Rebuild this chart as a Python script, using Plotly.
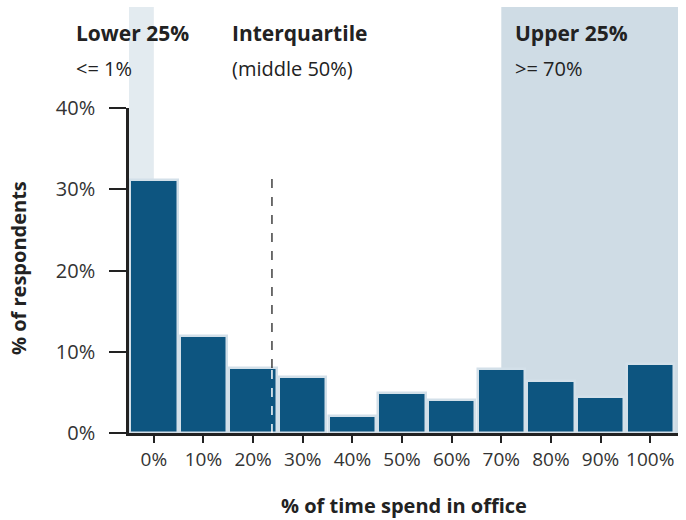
import plotly.graph_objects as go

categories = ["0%", "10%", "20%", "30%", "40%", "50%", "60%", "70%", "80%", "90%", "100%"]
respondents_pct = [31.1, 11.9, 8.0, 6.9, 2.1, 4.9, 4.1, 7.9, 6.4, 4.4, 8.5]
y_ticks = [0, 10, 20, 30, 40]
y_tick_labels = ["0%", "10%", "20%", "30%", "40%"]
lower_quartile_pct = 1      # <= 1%
upper_quartile_pct = 70     # >= 70%
median_marker_pct = 23.8    # dashed line position (time in office)
dashed_top_pct = 31.5

x_pos = list(range(len(categories)))
to_x = lambda pct: pct / 10.0

FONT = "'Open Sans', Roboto, sans-serif"
BAR = "#0d5580"
OUTLINE = "#d3e0e9"

L, R, T, B = 129, 678, 108, 433
W, H = 686, 520

fig = go.Figure()
fig.add_trace(go.Bar(
    x=x_pos, y=respondents_pct,
    marker=dict(color=BAR, line=dict(color=OUTLINE, width=2.5)),
    width=0.955, hoverinfo="skip",
))

shapes = [
    dict(type="rect", xref="x", yref="paper", x0=-0.5, x1=to_x(0),
         y0=0, y1=(B - 7) / (B - T), fillcolor="#e3ebf0", line_width=0, layer="below"),
    dict(type="rect", xref="x", yref="paper", x0=to_x(upper_quartile_pct), x1=10.56,
         y0=0, y1=(B - 7) / (B - T), fillcolor="#cfdce5", line_width=0, layer="below"),
    dict(type="line", xref="x", yref="y", x0=to_x(median_marker_pct), x1=to_x(median_marker_pct),
         y0=0, y1=respondents_pct[2], line=dict(color="white", width=1.5, dash="dash"), layer="above"),
    dict(type="line", xref="x", yref="y", x0=to_x(median_marker_pct), x1=to_x(median_marker_pct),
         y0=respondents_pct[2], y1=dashed_top_pct, line=dict(color="#111111", width=1.2, dash="dash"), layer="above"),
]

def px2paper(px, py):
    return (px - L) / (R - L), (B - py) / (B - T)

def ann(text, px, py, bold=False, size=20, xanchor="left", angle=0):
    x, y = px2paper(px, py)
    return dict(
        text=f"<b>{text}</b>" if bold else text,
        xref="paper", yref="paper", x=x, y=y,
        xanchor=xanchor, yanchor="middle", showarrow=False, textangle=angle,
        font=dict(family=FONT, size=size, color="#222222"),
    )

annotations = [
    ann("Lower 25%", 74, 33, True, 21),
    ann(f"&lt;= {lower_quartile_pct}%", 74, 68),
    ann("Interquartile", 230, 33, True, 21),
    ann("(middle 50%)", 230, 68),
    ann("Upper 25%", 513, 33, True, 21),
    ann(f"&gt;= {upper_quartile_pct}%", 513, 68),
    ann("% of time spend in office", 404, 505, True, 20, xanchor="center"),
    ann("% of respondents", 18, 268, True, 20, xanchor="center", angle=-90),
]

fig.update_layout(
    width=W, height=H,
    margin=dict(l=L, r=W - R, t=T, b=H - B),
    plot_bgcolor="white", paper_bgcolor="white",
    showlegend=False, bargap=0,
    shapes=shapes, annotations=annotations,
    font=dict(family=FONT, color="#222222"),
    xaxis=dict(
        range=[-0.5, 10.56], tickmode="array", tickvals=x_pos, ticktext=categories,
        showline=True, linecolor="#222222", linewidth=2.5,
        ticks="outside", ticklen=7, tickwidth=2, tickcolor="#222222",
        tickfont=dict(family=FONT, size=19, color="#333333"),
        showgrid=False, zeroline=False, automargin=False,
    ),
    yaxis=dict(
        range=[0, 40], tickmode="array", tickvals=y_ticks, ticktext=y_tick_labels,
        showline=True, linecolor="#222222", linewidth=2.5,
        ticks="outside", ticklen=17, tickwidth=2, tickcolor="#222222",
        ticklabelstandoff=10,
        tickfont=dict(family=FONT, size=20, color="#333333"),
        showgrid=False, zeroline=False, automargin=False,
    ),
)

fig.write_html(
    "out.html",
    config={"displayModeBar": False},
    post_script="document.body.style.margin='0';document.body.style.overflow='hidden';",
)
